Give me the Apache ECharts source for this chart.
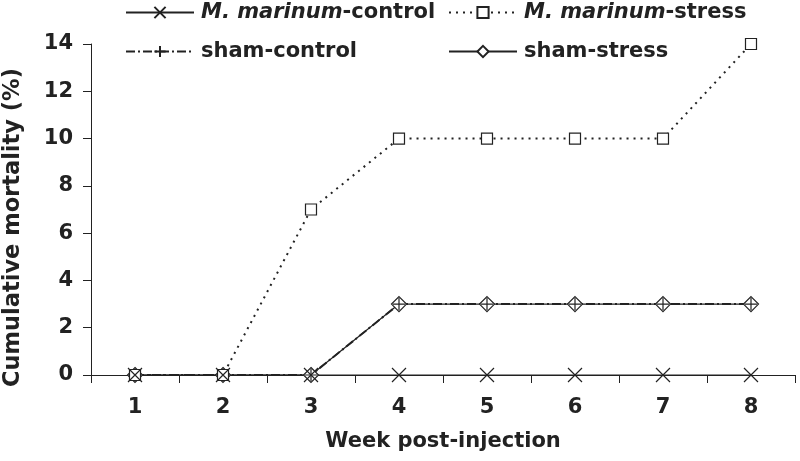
<!DOCTYPE html>
<html>
<head>
<meta charset="utf-8">
<script src="https://cdn.jsdelivr.net/npm/echarts@6/dist/echarts.min.js"></script>
<style>
html,body{margin:0;padding:0;background:#fff;}
#chart{width:800px;height:461px;}
</style>
</head>
<body>
<div id="chart"></div>
<script>
var weeks = ['1', '2', '3', '4', '5', '6', '7', '8'];
var yTicks = [0, 2, 4, 6, 8, 10, 12, 14];
var marinumControl = [0, 0, 0, 0, 0, 0, 0, 0];
var marinumStress = [0, 0, 7, 10, 10, 10, 10, 14];
var shamControl = [0, 0, 0, 3, 3, 3, 3, 3];
var shamStress = [0, 0, 0, 3, 3, 3, 3, 3];

var ink = '#222';
var font = 'DejaVu Sans, sans-serif';

var chart = echarts.init(document.getElementById('chart'));

function legendText(name) {
    if (name.indexOf('M. marinum') === 0) {
        return '{i|M. marinum}{n|' + name.substring(10) + '}';
    }
    return '{n|' + name + '}';
}

function makeLegend(name, left, top) {
    return {
        data: [name],
        left: left,
        top: top,
        itemWidth: 68,
        itemHeight: 14,
        selectedMode: false,
        formatter: legendText,
        textStyle: {
            padding: [0, 0, 0, 2],
            rich: {
                i: {fontFamily: font, fontSize: 21, fontWeight: 'bold', fontStyle: 'italic', color: ink},
                n: {fontFamily: font, fontSize: 21, fontWeight: 'bold', color: ink}
            }
        }
    };
}

var option = {
    animation: false,
    backgroundColor: '#fff',
    textStyle: {fontFamily: font},
    grid: {left: 91, right: 5, top: 44, bottom: 86, containLabel: false, outerBoundsMode: 'none'},
    legend: [
        makeLegend('M. marinum-control', 120, -3),
        makeLegend('M. marinum-stress', 443, -3),
        makeLegend('sham-control', 120, 36),
        makeLegend('sham-stress', 443, 36)
    ],
    xAxis: {
        type: 'category',
        data: weeks,
        boundaryGap: true,
        name: 'Week post-injection',
        nameLocation: 'middle',
        nameGap: 56,
        nameTextStyle: {fontFamily: font, fontSize: 21, fontWeight: 'bold', color: ink},
        axisLine: {lineStyle: {color: ink, width: 1}},
        axisTick: {show: true, length: 8, lineStyle: {color: ink}},
        axisLabel: {margin: 22, fontFamily: font, fontSize: 21, fontWeight: 'bold', color: ink},
        splitLine: {show: false}
    },
    yAxis: {
        type: 'value',
        min: yTicks[0],
        max: yTicks[yTicks.length - 1],
        interval: 2,
        name: 'Cumulative mortality (%)',
        nameLocation: 'middle',
        nameGap: 66,
        nameTextStyle: {fontFamily: font, fontSize: 22.5, fontWeight: 'bold', color: ink, padding: [0, 36, 0, 0]},
        axisLine: {show: true, lineStyle: {color: ink, width: 1}},
        axisTick: {show: true, length: 8, lineStyle: {color: ink}},
        axisLabel: {margin: 18, fontFamily: font, fontSize: 21, fontWeight: 'bold', color: ink},
        splitLine: {show: false}
    },
    series: [
        {
            name: 'sham-stress',
            type: 'line',
            data: shamStress,
            symbol: 'diamond',
            symbolSize: 15,
            lineStyle: {color: ink, width: 1.2, type: 'solid'},
            itemStyle: {color: '#fff', borderColor: ink, borderWidth: 1.2}
        },
        {
            name: 'sham-control',
            type: 'line',
            data: shamControl,
            symbol: 'path://M5,0L5,10M0,5L10,5',
            symbolSize: 12,
            lineStyle: {color: ink, width: 2, type: [9, 3, 2, 3]},
            itemStyle: {color: 'none', borderColor: ink, borderWidth: 1.2}
        },
        {
            name: 'M. marinum-stress',
            type: 'line',
            data: marinumStress,
            symbol: 'rect',
            symbolSize: 11,
            lineStyle: {color: ink, width: 2, type: [2, 5]},
            itemStyle: {color: '#fff', borderColor: ink, borderWidth: 1.2}
        },
        {
            name: 'M. marinum-control',
            type: 'line',
            data: marinumControl,
            symbol: 'path://M0,0L10,10M10,0L0,10',
            symbolSize: 14,
            lineStyle: {color: ink, width: 1, type: 'solid'},
            itemStyle: {color: 'none', borderColor: ink, borderWidth: 1.2}
        }
    ]
};

chart.setOption(option);
</script>
</body>
</html>
